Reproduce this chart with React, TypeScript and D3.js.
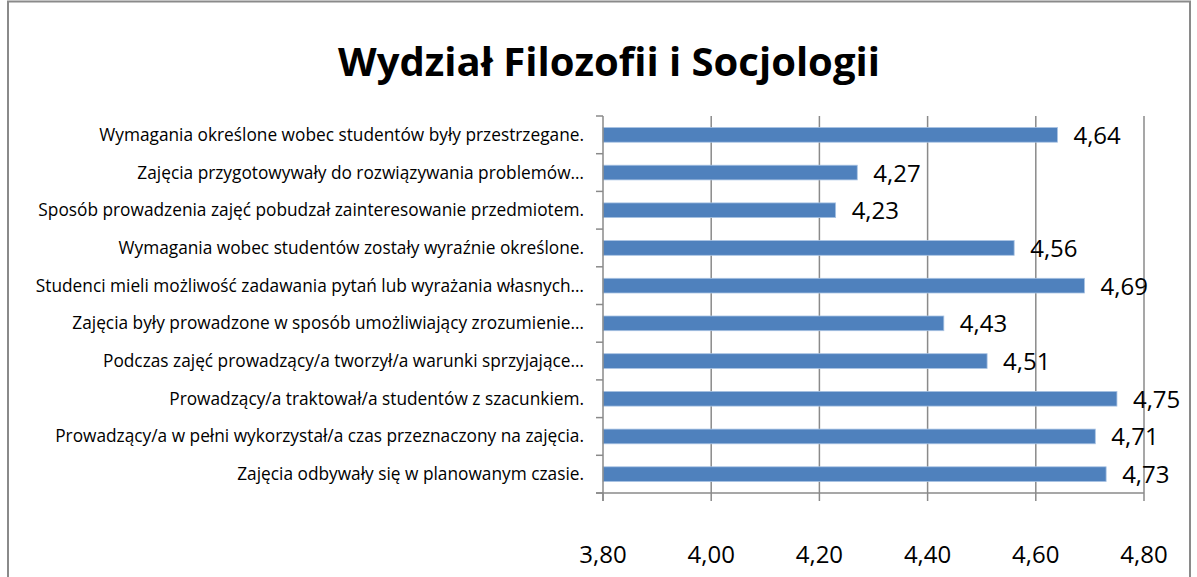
import { useEffect, useRef } from "react";
import * as d3 from "d3";

const categories = [
  "Wymagania określone wobec studentów były przestrzegane.",
  "Zajęcia przygotowywały do rozwiązywania problemów…",
  "Sposób prowadzenia zajęć pobudzał zainteresowanie przedmiotem.",
  "Wymagania wobec studentów zostały wyraźnie określone.",
  "Studenci mieli możliwość zadawania pytań lub wyrażania własnych…",
  "Zajęcia były prowadzone w sposób umożliwiający zrozumienie…",
  "Podczas zajęć prowadzący/a tworzył/a warunki sprzyjające…",
  "Prowadzący/a traktował/a studentów z szacunkiem.",
  "Prowadzący/a w pełni wykorzystał/a czas przeznaczony na zajęcia.",
  "Zajęcia odbywały się w planowanym czasie.",
];
const values = [4.64, 4.27, 4.23, 4.56, 4.69, 4.43, 4.51, 4.75, 4.71, 4.73];
const xTicks = [3.8, 4.0, 4.2, 4.4, 4.6, 4.8];
const title = "Wydział Filozofii i Socjologii";

const fmt = (v: number) => v.toFixed(2).replace(".", ",");

const App = () => {
  const svgRef = useRef<SVGSVGElement>(null);

  useEffect(() => {
    const svg = d3.select(svgRef.current);
    svg.selectAll("*").remove();

    const font = "'Open Sans', sans-serif";
    const left = 603;
    const right = 1144;
    const top = 116;
    const bottom = 493;
    const grey = "#8a8a8a";

    // outer frame
    svg
      .append("rect")
      .attr("x", 8)
      .attr("y", 1.5)
      .attr("width", 1182)
      .attr("height", 600)
      .attr("fill", "white")
      .attr("stroke", grey)
      .attr("stroke-width", 2);

    svg
      .append("text")
      .attr("x", 609)
      .attr("y", 76)
      .attr("text-anchor", "middle")
      .style("font-family", font)
      .style("font-weight", "bold")
      .style("font-size", "40px")
      .text(title);

    const x = d3.scaleLinear().domain([3.8, 4.8]).range([left, right]);
    const y = d3
      .scaleBand()
      .domain(categories)
      .range([top, bottom])
      .paddingInner(0.61)
      .paddingOuter(0.305);
    const band = (bottom - top) / categories.length;

    const g = svg.append("g");

    // gridlines
    g.selectAll(".grid")
      .data(xTicks.slice(1))
      .enter()
      .append("line")
      .attr("x1", (d) => x(d))
      .attr("x2", (d) => x(d))
      .attr("y1", top)
      .attr("y2", bottom)
      .attr("stroke", grey)
      .attr("stroke-width", 1.5);

    // bars
    g.selectAll(".bar")
      .data(values)
      .enter()
      .append("rect")
      .attr("x", left)
      .attr("y", (d, i) => y(categories[i])!)
      .attr("width", (d) => x(d) - left)
      .attr("height", y.bandwidth())
      .attr("fill", "#4f81bd")
      .attr("stroke", "#a9c3e3")
      .attr("stroke-width", 0.8);

    // value labels
    g.selectAll(".val")
      .data(values)
      .enter()
      .append("text")
      .attr("x", (d) => x(d) + 16)
      .attr("y", (d, i) => y(categories[i])! + y.bandwidth() / 2 + 9)
      .style("font-family", font)
      .style("font-size", "24px")
      .text((d) => fmt(d));

    // y axis
    const yAxis = g.append("g").attr("transform", `translate(${left},0)`);
    yAxis
      .append("line")
      .attr("x1", 0)
      .attr("x2", 0)
      .attr("y1", top)
      .attr("y2", bottom + 8)
      .attr("stroke", grey)
      .attr("stroke-width", 1.5);
    yAxis
      .selectAll(".ytick")
      .data(d3.range(categories.length + 1))
      .enter()
      .append("line")
      .attr("x1", -7)
      .attr("x2", 0)
      .attr("y1", (i) => top + i * band)
      .attr("y2", (i) => top + i * band)
      .attr("stroke", grey)
      .attr("stroke-width", 1.5);
    yAxis
      .selectAll(".ylab")
      .data(categories)
      .enter()
      .append("text")
      .attr("x", -19)
      .attr("y", (d) => y(d)! + y.bandwidth() / 2 + 6)
      .attr("text-anchor", "end")
      .style("font-family", font)
      .style("font-size", "17.3px")
      .text((d) => d);

    // x axis
    const xAxis = g.append("g").attr("transform", `translate(0,${bottom})`);
    xAxis
      .append("line")
      .attr("x1", left - 7)
      .attr("x2", right)
      .attr("stroke", grey)
      .attr("stroke-width", 1.5);
    xAxis
      .selectAll(".xtick")
      .data(xTicks)
      .enter()
      .append("line")
      .attr("x1", (d) => x(d))
      .attr("x2", (d) => x(d))
      .attr("y1", 0)
      .attr("y2", 8)
      .attr("stroke", grey)
      .attr("stroke-width", 1.5);
    xAxis
      .selectAll(".xlab")
      .data(xTicks)
      .enter()
      .append("text")
      .attr("x", (d) => x(d))
      .attr("y", 70)
      .attr("text-anchor", "middle")
      .style("font-family", font)
      .style("font-size", "24px")
      .text((d) => fmt(d));
  }, []);

  return (
    <svg
      ref={svgRef}
      width={1197}
      height={577}
      style={{ position: "absolute", left: 0, top: 0 }}
    ></svg>
  );
};

export default App;
